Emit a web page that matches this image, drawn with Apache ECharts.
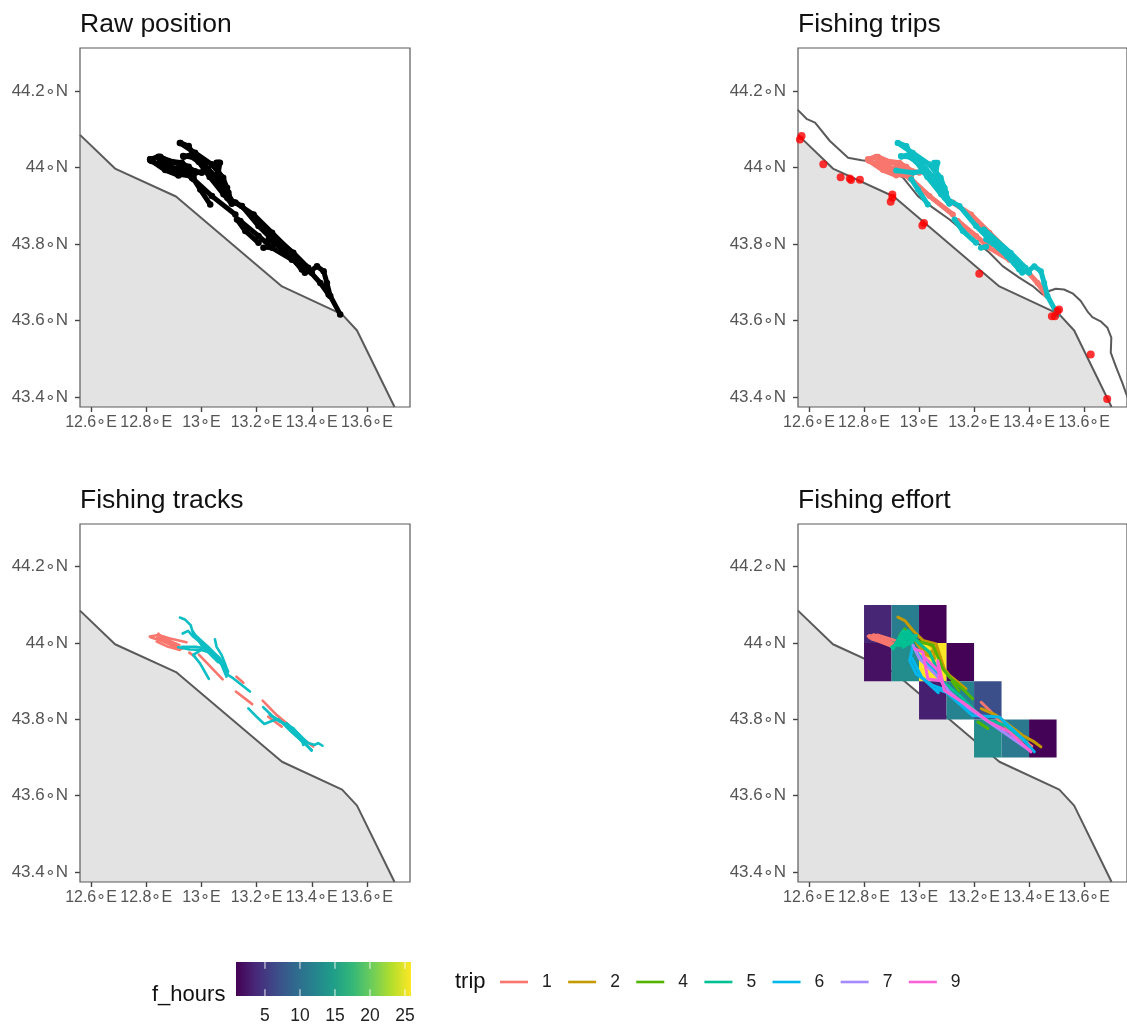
<!DOCTYPE html>
<html>
<head>
<meta charset="utf-8">
<style>html,body{margin:0;padding:0;background:#fff}#c{width:1127px;height:1028px}</style>
<script src="https://cdn.jsdelivr.net/npm/echarts@6/dist/echarts.min.js"></script>
</head>
<body>
<div id="c"></div>
<script>
const panelTitles = ['Raw position', 'Fishing trips', 'Fishing tracks', 'Fishing effort'];
const lonTicks = [12.6, 12.8, 13, 13.2, 13.4, 13.6];
const latTicks = [43.4, 43.6, 43.8, 44, 44.2];
const hourTicks = [5, 10, 15, 20, 25];
const viridis = ['#440154','#482878','#3E4A89','#31688E','#26828E','#1F9E89','#35B779','#6DCD59','#B4DE2C','#FDE725'];

const coast = [[12.56,44.085],[12.687,43.997],[12.908,43.924],[13.292,43.689],[13.51,43.616],[13.564,43.574],[13.70,43.374]];
const buffer = [[12.561,44.149],[12.591,44.127],[12.622,44.117],[12.676,44.069],[12.742,44.025],[12.791,44.019],[12.839,44.015],[12.942,43.973],[12.996,43.925],[13.05,43.895],[13.111,43.864],[13.183,43.82],[13.256,43.777],[13.304,43.742],[13.364,43.712],[13.413,43.69],[13.449,43.668],[13.473,43.677],[13.497,43.683],[13.527,43.681],[13.558,43.671],[13.588,43.651],[13.612,43.624],[13.63,43.609],[13.66,43.598],[13.685,43.581],[13.699,43.555],[13.697,43.516],[13.715,43.481],[13.739,43.437],[13.752,43.411],[13.775,43.37]];
const ports = [[12.573,44.082],[12.567,44.073],[12.652,44.008],[12.715,43.974],[12.748,43.971],[12.753,43.967],[12.785,43.968],[12.903,43.929],[12.903,43.921],[12.897,43.91],[13.018,43.855],[13.012,43.848],[13.219,43.722],[13.509,43.629],[13.503,43.624],[13.483,43.611],[13.494,43.611],[13.624,43.511],[13.684,43.395]];

// dense position tracks (raw + trips panels)
const posSalmon = [
 [[12.815,44.021],[12.851,44.028],[12.893,44.014],[12.954,44.002]],
 [[12.815,44.019],[12.869,43.993],[12.917,43.979]],
 [[12.851,44.012],[12.93,43.988],[12.966,43.973]],
 [[12.814,44.021],[12.844,44.028],[12.88,44.017],[12.929,44.012],[12.977,43.99]],
 [[12.82,44.017],[12.868,43.999],[12.916,43.982],[12.971,43.977]],
 [[12.85,44.017],[12.892,43.999],[12.947,43.995],[13.001,43.986]],
 [[12.966,43.973],[13.038,43.925],[13.123,43.877]],
 [[13.141,43.86],[13.207,43.821],[13.256,43.79],[13.328,43.759]],
 [[13.123,43.908],[13.189,43.877],[13.256,43.829],[13.328,43.777],[13.376,43.742],[13.431,43.698],[13.461,43.668]]
];
const posTeal = [
 [[12.924,44.064],[12.954,44.056],[12.972,44.03],[13.014,44.0],[13.062,43.969],[13.093,43.938],[13.105,43.916],[13.147,43.899],[13.207,43.847],[13.268,43.803],[13.328,43.777],[13.376,43.742],[13.395,43.729],[13.419,43.742],[13.443,43.729],[13.455,43.698],[13.467,43.664],[13.503,43.616]],
 [[12.936,44.028],[12.966,44.034],[12.99,44.015],[13.03,43.975],[13.08,43.93],[13.11,43.905]],
 [[12.917,43.992],[12.978,43.986],[13.014,43.99],[13.062,43.96],[13.099,43.925]],
 [[13.062,44.012],[13.053,43.999],[13.068,43.977],[13.093,43.947],[13.101,43.921]],
 [[12.922,44.064],[12.977,44.038],[13.037,44.008],[13.079,43.973],[13.098,43.934]],
 [[12.934,44.03],[12.989,44.025],[13.025,43.995],[13.067,43.96],[13.094,43.921]],
 [[12.959,44.03],[13.013,44.003],[13.049,43.977],[13.085,43.942]],
 [[13.055,44.012],[13.067,44.012],[13.061,43.986],[13.049,43.969]],
 [[12.972,43.969],[12.996,43.942],[13.032,43.903]],
 [[13.129,43.864],[13.159,43.834],[13.207,43.803]],
 [[13.225,43.79],[13.244,43.793]],
 [[13.244,43.812],[13.316,43.777],[13.364,43.733],[13.4,43.725]],
 [[13.236,43.838],[13.333,43.777],[13.387,43.738]],
 [[13.261,43.807],[13.321,43.768],[13.375,43.725]]
];

// filtered tracks (tracks panel)
const trackSalmon = [
 [[12.813,44.017],[12.844,44.021],[12.886,44.012],[12.946,44.002]],
 [[12.816,44.015],[12.862,44.004],[12.922,43.986]],
 [[12.838,44.004],[12.874,43.992],[12.922,43.982]],
 [[12.844,44.025],[12.856,44.008],[12.904,43.99]],
 [[12.84,44.015],[12.89,43.998],[12.93,43.985]],
 [[12.85,44.02],[12.9,44.0],[12.92,43.995]],
 [[12.86,44.012],[12.91,43.998]],
 [[12.956,43.975],[12.977,43.964]],
 [[12.991,43.97],[13.077,43.905]],
 [[13.125,43.873],[13.184,43.84]],
 [[13.222,43.849],[13.272,43.812],[13.309,43.79],[13.357,43.755],[13.405,43.729]],
 [[13.242,43.807],[13.291,43.781]],
 [[13.127,43.912],[13.152,43.896]]
];
const trackTeal = [
 [[12.922,44.067],[12.94,44.062],[12.961,44.047],[12.97,44.025],[12.995,44.004],[13.031,43.982],[13.067,43.96],[13.085,43.938],[13.097,43.916],[13.115,43.908],[13.146,43.89],[13.176,43.873]],
 [[12.932,44.025],[12.952,44.032],[12.97,44.017],[13.007,43.995],[13.043,43.973],[13.079,43.947],[13.097,43.925]],
 [[12.916,43.989],[12.958,43.983],[13.001,43.982],[13.037,43.973],[13.073,43.951]],
 [[12.977,44.021],[13.025,43.99],[13.061,43.964],[13.091,43.912]],
 [[12.97,44.03],[13.0,43.995],[13.04,43.965],[13.08,43.94]],
 [[12.985,44.015],[13.02,43.98],[13.06,43.95]],
 [[12.93,43.99],[12.98,43.99],[13.02,43.985]],
 [[13.001,43.983],[12.97,43.969],[12.995,43.947],[13.027,43.906]],
 [[13.049,44.01],[13.055,43.99],[13.073,43.969],[13.085,43.947],[13.094,43.929]],
 [[13.17,43.829],[13.2,43.807],[13.228,43.788],[13.26,43.797],[13.278,43.8]],
 [[13.224,43.832],[13.26,43.807],[13.309,43.786],[13.345,43.764],[13.375,43.738],[13.399,43.718]],
 [[13.309,43.79],[13.357,43.759],[13.387,43.738],[13.411,43.733],[13.423,43.738],[13.439,43.731]],
 [[13.248,43.812],[13.284,43.794],[13.333,43.777],[13.363,43.751],[13.369,43.733]],
 [[13.28,43.8],[13.33,43.765],[13.37,43.74]],
 [[13.31,43.78],[13.36,43.745],[13.4,43.72]]
];

// effort panel
const effortLon = [12.8,12.9,13.0,12.8,12.9,13.0,13.1,13.0,13.1,13.2,13.2,13.3,13.4];
const effortLat = [44.0,44.0,44.0,43.9,43.9,43.9,43.9,43.8,43.8,43.8,43.7,43.7,43.7];
const effortHours = [3.5,11.5,1,2,13,25.8,1,3,12,7,13,11,1];
const hoursMin = 0.86, hoursMax = 25.86;

const tripNames = ['1','2','4','5','6','7','9'];
const tripColors = ['#F8766D','#C49A00','#53B400','#00C094','#00B6EB','#A58AFF','#FB61D7'];
const trip1 = [
 [[12.815,44.018],[12.851,44.021],[12.912,44.007]],
 [[12.82,44.014],[12.87,44.0],[12.905,43.99]],
 [[12.835,44.022],[12.86,44.006],[12.9,43.995]],
 [[12.82,44.02],[12.89,44.005],[12.915,43.995]],
 [[12.83,44.01],[12.9,44.0]],
 [[13.226,43.845],[13.256,43.824],[13.3,43.79],[13.36,43.755],[13.41,43.73]]
];
const trip2 = [
 [[12.923,44.068],[12.948,44.059],[12.978,44.033],[13.014,44.007],[13.062,43.998],[13.092,43.932],[13.111,43.915],[13.171,43.88]],
 [[13.226,43.828],[13.28,43.811],[13.377,43.758],[13.419,43.741],[13.443,43.728]],
 [[12.99,44.002],[13.05,43.998],[13.056,43.959],[13.02,43.972],[12.99,44.002]],
 [[13.0,44.0],[13.03,43.97],[13.06,43.985],[13.03,44.0]]
];
const trip4 = [
 [[12.93,44.02],[12.948,44.037],[12.966,44.011],[13.051,43.994],[13.087,43.932],[13.111,43.911],[13.159,43.88],[13.195,43.854]],
 [[13.214,43.793],[13.25,43.776]],
 [[13.12,43.9],[13.145,43.875]]
];
const trip5 = [
 [[12.905,43.985],[12.942,44.033],[12.984,44.011],[12.942,43.989]],
 [[12.905,43.985],[12.948,44.024],[12.972,44.007],[12.929,43.993],[12.954,44.011],[12.923,43.998]],
 [[12.9,43.989],[12.948,44.011],[12.99,44.02],[12.972,43.998],[12.912,43.994],[12.96,44.033],[12.996,44.002]],
 [[12.996,44.002],[13.038,43.976],[13.087,43.898],[13.147,43.863],[13.232,43.802],[13.316,43.784],[13.389,43.741]]
];
const trip6 = [
 [[12.978,43.994],[12.966,43.954],[12.99,43.919],[13.05,43.889],[13.086,43.88],[13.093,43.889],[13.051,43.932],[12.99,43.976]],
 [[13.063,43.88],[13.099,43.871],[13.195,43.81],[13.292,43.806],[13.377,43.749],[13.419,43.715]],
 [[12.975,43.96],[13.01,43.91],[13.07,43.87]]
];
const trip7 = [
 [[12.978,43.994],[13.002,43.959],[13.063,43.915],[13.111,43.872],[13.183,43.828],[13.28,43.78],[13.401,43.719]]
];
const trip9 = [
 [[12.984,43.985],[13.014,43.976],[13.032,43.906],[13.074,43.902],[13.068,43.954],[13.092,43.876],[13.159,43.845],[13.256,43.793],[13.328,43.767],[13.407,43.715]],
 [[13.014,43.967],[13.075,43.924]]
];
const tripTracks = [trip1, trip2, trip4, trip5, trip6, trip7, trip9];

const LONMIN = 12.56, LONMAX = 13.756, LATMIN = 43.374, LATMAX = 44.312;
const GREY = '#555', LINE = '#5a5a5a', LAND = '#e3e3e3', SALMON = '#F8766D', TEAL = '#0DBEC4';
const DEG = '\u2218';
const grids = [
  {left:80,top:48,width:330,height:359},
  {left:798,top:48,width:330,height:359},
  {left:80,top:524,width:330,height:358},
  {left:798,top:524,width:330,height:358}
];

function mixColor(t) {
  const p = Math.max(0, Math.min(1, t)) * (viridis.length - 1);
  const i = Math.min(viridis.length - 2, Math.floor(p)), f = p - i;
  const hex = c => [1,3,5].map(k => parseInt(c.substr(k,2),16));
  const a = hex(viridis[i]), b = hex(viridis[i+1]);
  return 'rgb(' + a.map((v,k) => Math.round(v + (b[k]-v)*f)).join(',') + ')';
}

const series = [];
function addLine(idx, pts, color, width, name, symbolSize, z) {
  series.push({
    type:'line', name:name, xAxisIndex:idx, yAxisIndex:idx, data:pts, silent:true, animation:false,
    showSymbol:!!symbolSize, showAllSymbol:true, symbol:'circle', symbolSize:symbolSize||0,
    lineStyle:{color:color,width:width,cap:'round',join:'round'}, itemStyle:{color:color},
    z:z||3, emphasis:{disabled:true}
  });
}
function addCoast(idx) {
  series.push({
    type:'line', xAxisIndex:idx, yAxisIndex:idx, data:coast, showSymbol:false, silent:true, animation:false,
    lineStyle:{color:LINE,width:2}, areaStyle:{color:LAND,opacity:1,origin:'start'}, z:1
  });
}
[0,1,2,3].forEach(addCoast);

// raw positions
posSalmon.concat(posTeal).forEach(p => addLine(0,p,'#000',5,undefined,6.5));
// trips
addLine(1,buffer,LINE,2,undefined,0,1);
posSalmon.forEach(p => addLine(1,p,SALMON,5,undefined,6,3));
posTeal.forEach(p => addLine(1,p,TEAL,5,undefined,6,4));
series.push({type:'scatter',xAxisIndex:1,yAxisIndex:1,data:ports,symbolSize:8,silent:true,animation:false,itemStyle:{color:'#ff0000'},z:5});
// tracks
trackSalmon.forEach(p => addLine(2,p,SALMON,2.6,undefined,0,3));
trackTeal.forEach(p => addLine(2,p,TEAL,2.6,undefined,0,4));
// effort tiles
series.push({
  type:'custom', coordinateSystem:'cartesian2d', xAxisIndex:3, yAxisIndex:3, silent:true, animation:false, z:2,
  data: effortHours.map((h,i) => [effortLon[i], effortLat[i], h]),
  encode:{x:0,y:1},
  renderItem:(params,api) => {
    const a = api.coord([api.value(0), api.value(1)+0.1]);
    const b = api.coord([api.value(0)+0.1, api.value(1)]);
    return {type:'rect',shape:{x:a[0],y:a[1],width:b[0]-a[0],height:b[1]-a[1]},
      style:{fill:mixColor((api.value(2)-hoursMin)/(hoursMax-hoursMin))}};
  }
});
tripTracks.forEach((t,i) => t.forEach(p => addLine(3,p,tripColors[i],3,tripNames[i],0,3+i/10)));
// colour bar
series.push({
  type:'custom', coordinateSystem:'cartesian2d', xAxisIndex:4, yAxisIndex:4, silent:true, animation:false,
  data:[[hoursMin,hoursMax]], encode:{x:[0,1]},
  renderItem:(params,api) => {
    const a = api.coord([api.value(0),1]), b = api.coord([api.value(1),0]);
    return {type:'rect',shape:{x:a[0],y:a[1],width:b[0]-a[0],height:b[1]-a[1]},
      style:{fill:{type:'linear',x:0,y:0,x2:1,y2:0,colorStops:viridis.map((c,i)=>({offset:i/(viridis.length-1),color:c}))}}};
  }
});
series.push({
  type:'custom', coordinateSystem:'cartesian2d', xAxisIndex:4, yAxisIndex:4, silent:true, animation:false,
  data:hourTicks.map(v=>[v]), encode:{x:0}, z:3,
  renderItem:(params,api) => {
    const t = api.coord([api.value(0),1]), b = api.coord([api.value(0),0]);
    const len = (b[1]-t[1])/5;
    const st = {stroke:'#fff',lineWidth:1,opacity:0.9};
    return {type:'group',children:[
      {type:'line',shape:{x1:t[0],y1:t[1],x2:t[0],y2:t[1]+len},style:st},
      {type:'line',shape:{x1:b[0],y1:b[1],x2:b[0],y2:b[1]-len},style:st}
    ]};
  }
});

const xAxes = grids.map((g,i) => ({
  type:'value', gridIndex:i, min:LONMIN, max:LONMAX, splitLine:{show:false},
  axisLine:{show:false}, axisTick:{show:true,customValues:lonTicks,length:5,lineStyle:{color:'#444',width:1.4}},
  axisLabel:{customValues:lonTicks,color:GREY,fontFamily:'Liberation Sans',fontSize:16,margin:8,hideOverlap:false,
    formatter:v=>(+(+v).toFixed(1))+DEG+'E'}
}));
const yAxes = grids.map((g,i) => ({
  type:'value', gridIndex:i, min:LATMIN, max:LATMAX, splitLine:{show:false},
  axisLine:{show:false}, axisTick:{show:true,customValues:latTicks,length:5,lineStyle:{color:'#444',width:1.4}},
  axisLabel:{customValues:latTicks,color:GREY,fontFamily:'Liberation Sans',fontSize:17,margin:12,hideOverlap:false,showMinLabel:true,showMaxLabel:true,padding:[2,0,0,0],
    formatter:v=>(+(+v).toFixed(1))+DEG+'N'}
}));
xAxes.push({type:'value',gridIndex:4,min:hoursMin,max:hoursMax,splitLine:{show:false},axisLine:{show:false},
  axisTick:{show:false},axisLabel:{customValues:hourTicks,color:'#222',fontFamily:'Liberation Sans',fontSize:17.5,margin:11,hideOverlap:false,showMinLabel:true,showMaxLabel:true}});
yAxes.push({type:'value',gridIndex:4,min:0,max:1,show:false});

const titles = panelTitles.map((t,i) => ({
  text:t,left:grids[i].left,top:grids[i].top-37,padding:0,
  textStyle:{fontFamily:'Liberation Sans',fontSize:26.5,fontWeight:'normal',color:'#111'}
}));
titles.push({text:'f_hours',left:152,top:984,padding:0,textStyle:{fontFamily:'Liberation Sans',fontSize:22,fontWeight:'normal',color:'#111'}});
titles.push({text:'trip',left:455,top:971,padding:0,textStyle:{fontFamily:'Liberation Sans',fontSize:22,fontWeight:'normal',color:'#111'}});

const chart = echarts.init(document.getElementById('c'),null,{renderer:'canvas'});
chart.setOption({
  animation:false, backgroundColor:'#fff',
  title:titles,
  grid:grids.map(g=>Object.assign({show:true,z:5,backgroundColor:'transparent',borderColor:'#5a5a5a',borderWidth:1.2},g)).concat([{left:236,top:962,width:175,height:34}]),
  xAxis:xAxes, yAxis:yAxes, series:series,
  legend:{show:true,left:500,top:973,orient:'horizontal',icon:'rect',itemWidth:28,itemHeight:2.6,itemGap:16.4,padding:0,
    selectedMode:false,data:tripNames,
    textStyle:{fontFamily:'Liberation Sans',fontSize:17.5,color:'#222',padding:[0,0,0,9]}}
});
</script>
</body>
</html>
